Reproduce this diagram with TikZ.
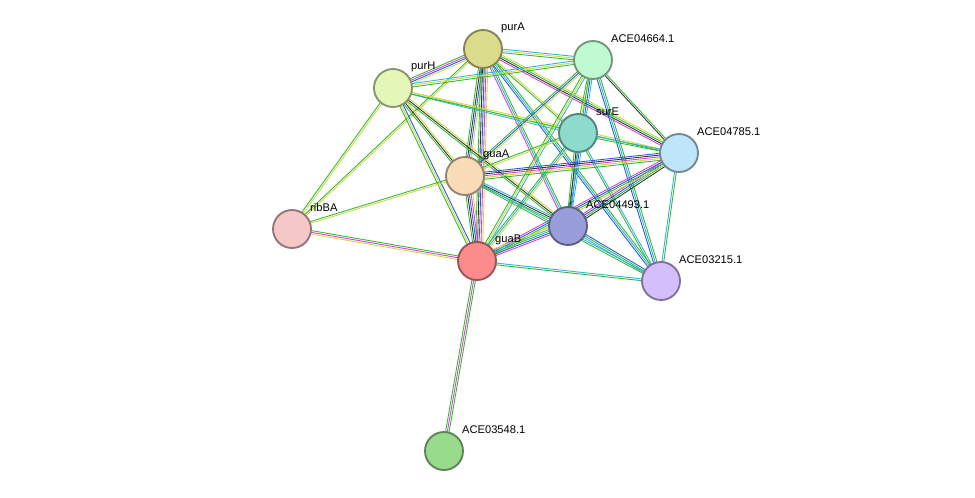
\documentclass[tikz,border=0pt]{standalone}
\usepackage{fontspec}
\setmainfont{Liberation Sans}
\usepackage{tikz}
\usetikzlibrary{calc}

\definecolor{egrn}{rgb}{0.2,0.72,0.2}
\definecolor{etxt}{rgb}{0.8,0.85,0.25}
\definecolor{eblu}{rgb}{0.15,0.35,0.9}
\definecolor{emag}{rgb}{0.85,0.25,0.85}
\definecolor{ecyn}{rgb}{0.2,0.7,0.85}
\definecolor{eblk}{rgb}{0.2,0.2,0.2}
% protein colours
\definecolor{cpurA}{rgb}{0.86,0.86,0.55}
\definecolor{ca4664}{rgb}{0.75,0.98,0.82}
\definecolor{cpurH}{rgb}{0.9,0.97,0.72}
\definecolor{csurE}{rgb}{0.55,0.86,0.8}
\definecolor{ca4785}{rgb}{0.75,0.9,0.98}
\definecolor{cguaA}{rgb}{0.98,0.86,0.72}
\definecolor{cribBA}{rgb}{0.96,0.78,0.78}
\definecolor{ca4493}{rgb}{0.6,0.62,0.86}
\definecolor{cguaB}{rgb}{0.99,0.55,0.55}
\definecolor{ca3215}{rgb}{0.83,0.75,0.99}
\definecolor{ca3548}{rgb}{0.6,0.86,0.55}

\tikzset{
  prot/.style={circle, minimum size=1.14cm, inner sep=0pt, line width=1.6pt, draw=#1!60!black, fill=#1},
  plabel/.style={anchor=west, font=\fontsize{9.5}{10}\selectfont, inner sep=0pt},
}
\newcommand\edge[3]{%
  \foreach \c [count=\i] in {#3}{%
    \draw[\c, line width=0.75pt] ($(#1)!{(\i-2)*1.5pt}!90:(#2)$) -- ($(#2)!{(\i-2)*1.5pt}!-90:(#1)$);}}

\begin{document}
\begin{tikzpicture}[x=0.03cm, y=-0.03cm]
    \useasboundingbox (0,0) rectangle (975,497);
    % protein positions
    \coordinate (purA) at (483,49);
    \coordinate (a4664) at (593,60);
    \coordinate (purH) at (393,88);
    \coordinate (surE) at (578,133);
    \coordinate (a4785) at (679,153);
    \coordinate (guaA) at (465,176);
    \coordinate (ribBA) at (292,229);
    \coordinate (a4493) at (568,226);
    \coordinate (guaB) at (477,261);
    \coordinate (a3215) at (661,281);
    \coordinate (a3548) at (444,451);

    % interactions
    \edge{purA}{purH}{egrn,emag,eblu,etxt}
    \edge{purA}{a4664}{egrn,etxt,ecyn}
    \edge{purA}{guaA}{egrn,eblk,eblu,etxt}
    \edge{purA}{guaB}{egrn,eblk,eblu,emag,etxt}
    \edge{purA}{surE}{egrn,etxt}
    \edge{purA}{a4785}{emag,eblk,egrn,etxt}
    \edge{purA}{a4493}{emag,ecyn,egrn}
    \edge{purA}{ribBA}{egrn,etxt}
    \edge{purA}{a3215}{eblu,ecyn,egrn}
    \edge{purH}{a4664}{egrn,etxt,ecyn}
    \edge{purH}{guaA}{egrn,eblk,etxt}
    \edge{purH}{guaB}{egrn,etxt,eblu}
    \edge{purH}{surE}{ecyn,etxt}
    \edge{purH}{a4493}{egrn,eblk,etxt}
    \edge{purH}{a4785}{egrn,etxt}
    \edge{purH}{ribBA}{egrn,etxt}
    \edge{a4664}{surE}{egrn,etxt}
    \edge{a4664}{a4785}{eblk,egrn}
    \edge{a4664}{guaA}{egrn,eblu,etxt}
    \edge{a4664}{guaB}{egrn,etxt,ecyn}
    \edge{a4664}{a4493}{egrn,eblu,ecyn}
    \edge{a4664}{a3215}{eblu,ecyn,egrn}
    \edge{surE}{a4785}{egrn,ecyn}
    \edge{surE}{guaA}{egrn,etxt}
    \edge{surE}{guaB}{egrn,ecyn,etxt}
    \edge{surE}{a4493}{egrn,eblk,ecyn}
    \edge{surE}{a3215}{egrn,ecyn}
    \edge{a4785}{guaA}{eblu,eblk,emag,etxt,egrn}
    \edge{a4785}{a4493}{emag,eblu,egrn,eblk}
    \edge{a4785}{guaB}{emag,eblu,egrn,etxt}
    \edge{a4785}{a3215}{ecyn,egrn}
    \edge{guaA}{guaB}{egrn,eblk,eblu,emag,etxt}
    \edge{guaA}{a4493}{egrn,eblk,ecyn}
    \edge{guaA}{ribBA}{egrn,etxt}
    \edge{guaA}{a3215}{egrn,ecyn}
    \edge{guaB}{a4493}{emag,eblu,egrn,ecyn,etxt}
    \edge{guaB}{ribBA}{egrn,emag,etxt}
    \edge{guaB}{a3215}{egrn,ecyn}
    \edge{guaB}{a3548}{egrn,emag,egrn}
    \edge{a4493}{a3215}{ecyn,egrn,eblu}

    % proteins
    \foreach \n/\t in {purA/purA, a4664/ACE04664.1, purH/purH, surE/surE,
        a4785/ACE04785.1, guaA/guaA, ribBA/ribBA, a4493/ACE04493.1,
        guaB/guaB, a3215/ACE03215.1, a3548/ACE03548.1}{
      \node[prot=c\n] (\n-c) at (\n) {};
      \node[plabel] (\n-l) at ($(\n)+(18,-21)$) {\t};
    }
\end{tikzpicture}
\end{document}
